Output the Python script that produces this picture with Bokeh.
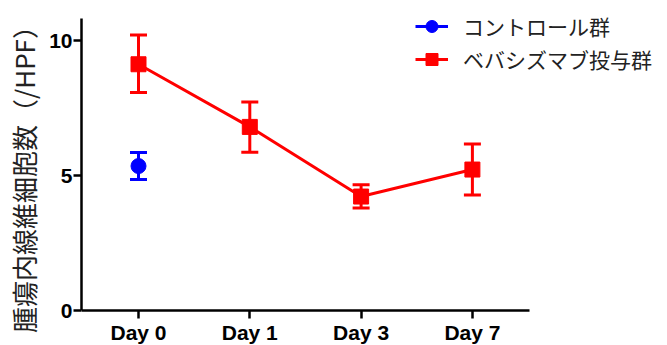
from bokeh.plotting import figure
from bokeh.models import (ColumnDataSource, Range1d, FixedTicker, Whisker, TeeHead,
                          Legend, LegendItem)
from bokeh.embed import file_html
from bokeh.resources import INLINE

# ---- data ----
days = ["Day 0", "Day 1", "Day 3", "Day 7"]
day_pos = [0, 1, 2, 3]

beva_mean = [9.12, 6.80, 4.22, 5.22]
beva_upper = [10.20, 7.72, 4.66, 6.17]
beva_lower = [8.07, 5.86, 3.80, 4.28]

ctrl_pos = [0]
ctrl_mean = [5.35]
ctrl_upper = [5.85]
ctrl_lower = [4.85]

yticks = [0, 5, 10]
y_label = "腫瘍内線維細胞数（/HPF）"
ctrl_name = "コントロール群"
beva_name = "ベバシズマブ投与群"

# ---- layout constants (pixels) ----
W, H = 667, 345
FRAME_LEFT = 81
ZERO_Y = 310          # pixel row of y = 0
PX_PER_DAY = 111.3
DAY0_X = 138
PX_PER_UNIT = 27.0
AXIS_X_END = 3.512
AXIS_Y_END = 10.8

x_start = -(DAY0_X - FRAME_LEFT) / PX_PER_DAY
x_end = x_start + (W - FRAME_LEFT) / PX_PER_DAY
y_start = -(H - ZERO_Y) / PX_PER_UNIT
y_end = ZERO_Y / PX_PER_UNIT

RED = "#FF0000"
BLUE = "#0000FF"
NUM_FONT = "Arial, 'Liberation Sans', sans-serif"
JP_FONT = "'Noto Sans CJK JP', sans-serif"

p = figure(width=W, height=H, output_backend="svg", toolbar_location=None,
           x_range=Range1d(x_start, x_end), y_range=Range1d(y_start, y_end),
           min_border_left=FRAME_LEFT, min_border_right=0, min_border_top=0,
           min_border_bottom=0)
p.outline_line_color = None
p.grid.visible = False
p.background_fill_color = "white"
p.border_fill_color = "white"

beva_src = ColumnDataSource(dict(x=day_pos, y=beva_mean, up=beva_upper, lo=beva_lower))
ctrl_src = ColumnDataSource(dict(x=ctrl_pos, y=ctrl_mean, up=ctrl_upper, lo=ctrl_lower))

for src, col in ((beva_src, RED), (ctrl_src, BLUE)):
    w = Whisker(base="x", upper="up", lower="lo", source=src,
                line_color=col, line_width=3,
                upper_head=TeeHead(size=17, line_color=col, line_width=3),
                lower_head=TeeHead(size=17, line_color=col, line_width=3))
    p.add_layout(w)

beva_line = p.line("x", "y", source=beva_src, line_color=RED, line_width=3)
beva_pts = p.scatter("x", "y", source=beva_src, marker="square", size=15,
                     fill_color=RED, line_color=RED)
ctrl_line = p.line("x", "y", source=ctrl_src, line_color=BLUE, line_width=3)
ctrl_pts = p.scatter("x", "y", source=ctrl_src, marker="circle", size=15,
                     fill_color=BLUE, line_color=BLUE)

# axes
for ax in (p.xaxis[0], p.yaxis[0]):
    ax.axis_line_width = 2.5
    ax.axis_line_color = "black"
    ax.major_tick_line_width = 2.5
    ax.major_tick_line_color = "black"
    ax.major_tick_out = 8
    ax.major_tick_in = 0
    ax.minor_tick_out = 0
    ax.minor_tick_in = 0
    ax.major_label_text_font = NUM_FONT
    ax.major_label_text_font_style = "bold"
    ax.major_label_text_font_size = "21px"
    ax.major_label_text_color = "black"

p.xaxis.ticker = FixedTicker(ticks=day_pos)
p.xaxis.major_label_overrides = {k: v for k, v in zip(day_pos, days)}
p.xaxis.major_label_standoff = 2
p.xaxis.bounds = (x_start, AXIS_X_END)
p.xaxis.fixed_location = 0

p.yaxis.ticker = FixedTicker(ticks=yticks)
p.yaxis.major_label_standoff = 1
p.yaxis.bounds = (0, AXIS_Y_END)
p.yaxis.axis_label = y_label
p.yaxis.axis_label_text_font = JP_FONT
p.yaxis.axis_label_text_font_style = "normal"
p.yaxis.axis_label_text_font_size = "26px"
p.yaxis.axis_label_text_color = "#222222"
p.yaxis.axis_label_standoff = 4

legend = Legend(items=[LegendItem(label=ctrl_name, renderers=[ctrl_line, ctrl_pts]),
                       LegendItem(label=beva_name, renderers=[beva_line, beva_pts])],
                location=(334, 271), glyph_width=33, glyph_height=30,
                label_height=30, spacing=3, label_standoff=15, padding=0, margin=0,
                label_text_font=JP_FONT, label_text_font_size="21px",
                label_text_color="#222222", border_line_color=None,
                background_fill_alpha=0)
p.add_layout(legend)

open("out.html", "w").write(file_html(p, INLINE))
